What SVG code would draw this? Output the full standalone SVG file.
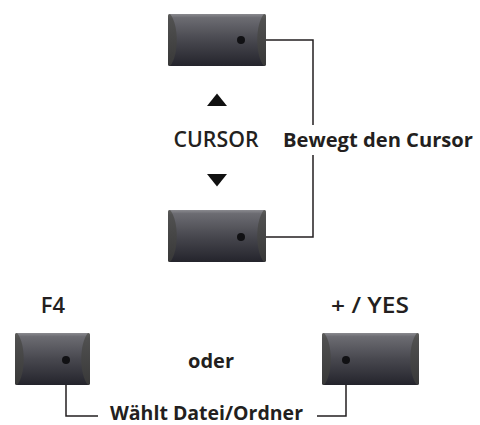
<svg xmlns="http://www.w3.org/2000/svg" width="480" height="425" viewBox="0 0 480 425">
<defs>
<linearGradient id="face" x1="0" y1="0" x2="0" y2="1">
<stop offset="0" stop-color="#8a8a8f"/>
<stop offset="0.07" stop-color="#6c6c72"/>
<stop offset="0.5" stop-color="#48484f"/>
<stop offset="1" stop-color="#24242c"/>
</linearGradient>
<linearGradient id="side" x1="0" y1="0" x2="0" y2="1">
<stop offset="0" stop-color="#5e5e5b"/>
<stop offset="0.1" stop-color="#505050"/>
<stop offset="1" stop-color="#383838"/>
</linearGradient>
</defs>
<style>
.face{fill:url(#face);}
.side{fill:url(#side);}
.dot{fill:#111114;}
.conn{fill:none;stroke:#231f20;stroke-width:1.5;}
.tri{fill:#111;}
text{font-family:"Open Sans","Liberation Sans",sans-serif;fill:#231f20;}
.lbl{font-size:20px;font-weight:700;}
.key{font-size:22px;font-weight:600;}
</style>
<g id="connectors">
<path class="conn" d="M241,40 H313 V125"/>
<path class="conn" d="M313,155 V237 H241"/>
<path class="conn" d="M66,360 V416 H98"/>
<path class="conn" d="M317,416 H346 V360"/>
</g>
<g id="btn-up">
<rect class="face" x="168" y="14" width="98" height="52" rx="2"/>
<path class="side" d="M168,16 Q168,14 170,14 C179,24 179,56 170,66 Q168,66 168,64 Z"/>
<path class="side" d="M266,16 Q266,14 264,14 C255,24 255,56 264,66 Q266,66 266,64 Z"/>
<circle class="dot" cx="241" cy="40" r="4"/>
</g>
<g id="btn-down">
<rect class="face" x="168" y="210" width="98" height="52" rx="2"/>
<path class="side" d="M168,212 Q168,210 170,210 C179,220 179,252 170,262 Q168,262 168,260 Z"/>
<path class="side" d="M266,212 Q266,210 264,210 C255,220 255,252 264,262 Q266,262 266,260 Z"/>
<circle class="dot" cx="241" cy="237" r="4"/>
</g>
<g id="btn-f4">
<rect class="face" x="15" y="333" width="75" height="52" rx="2"/>
<path class="side" d="M15,335 Q15,333 17,333 C26,343 26,375 17,385 Q15,385 15,383 Z"/>
<path class="side" d="M90,335 Q90,333 88,333 C79,343 79,375 88,385 Q90,385 90,383 Z"/>
<circle class="dot" cx="66" cy="360" r="4"/>
</g>
<g id="btn-yes">
<rect class="face" x="322" y="333" width="97" height="52" rx="2"/>
<path class="side" d="M322,335 Q322,333 324,333 C333,343 333,375 324,385 Q322,385 322,383 Z"/>
<path class="side" d="M419,335 Q419,333 417,333 C408,343 408,375 417,385 Q419,385 419,383 Z"/>
<circle class="dot" cx="346" cy="360" r="4"/>
</g>
<g id="cursor-label">
<polygon class="tri" points="217,93.5 227,106 207,106"/>
<text class="key" x="216" y="147" text-anchor="middle" textLength="85" lengthAdjust="spacingAndGlyphs">CURSOR</text>
<polygon class="tri" points="207,174 227,174 217,186.5"/>
</g>
<g id="label-bewegt">
<text class="lbl" x="283" y="147" textLength="190" lengthAdjust="spacingAndGlyphs">Bewegt den Cursor</text>
</g>
<g id="label-f4">
<text class="key" x="53" y="313" text-anchor="middle">F4</text>
</g>
<g id="label-yes">
<text class="key" x="370" y="313" text-anchor="middle" textLength="78" lengthAdjust="spacingAndGlyphs">+ / YES</text>
</g>
<g id="label-oder">
<text class="lbl" x="211" y="368" text-anchor="middle">oder</text>
</g>
<g id="label-waehlt">
<text class="lbl" x="110" y="420" textLength="193" lengthAdjust="spacingAndGlyphs">Wählt Datei/Ordner</text>
</g>
</svg>
